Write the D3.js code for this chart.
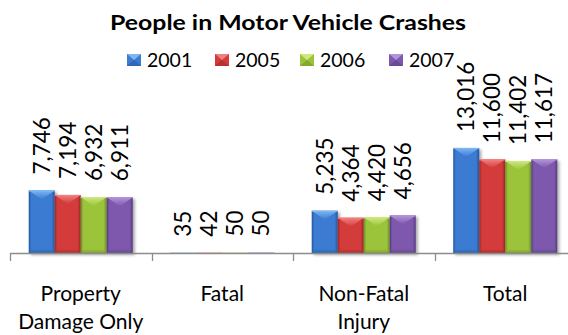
<!DOCTYPE html>
<html>
<head>
<meta charset="utf-8">
<script src="https://cdn.jsdelivr.net/npm/d3@7/dist/d3.min.js"></script>
<style>
  html, body { margin: 0; padding: 0; background: #fff; }
  svg { display: block; }
  text { font-family: Lato, "Open Sans", sans-serif; fill: #000; }
</style>
</head>
<body>
<div id="chart"></div>
<script>
// Data
const categories = ["Property Damage Only", "Fatal", "Non-Fatal Injury", "Total"];
const categoryLines = [["Property", "Damage Only"], ["Fatal"], ["Non-Fatal", "Injury"], ["Total"]];
const years = ["2001", "2005", "2006", "2007"];
const values2001 = [7746, 35, 5235, 13016];
const values2005 = [7194, 42, 4364, 11600];
const values2006 = [6932, 50, 4420, 11402];
const values2007 = [6911, 50, 4656, 11617];
const seriesValues = [values2001, values2005, values2006, values2007];

// Bevel colours per series: base, light, dark
const palette = [
  { base: "#3b7bd2", light: "#7db6f2", dark: "#24559a" },
  { base: "#d43b3b", light: "#f08080", dark: "#962626" },
  { base: "#9cc43b", light: "#cde880", dark: "#6a8c24" },
  { base: "#7d59ac", light: "#b394dc", dark: "#553b7e" }
];

const W = 568, H = 335;
const axisY = 253;

const svg = d3.select("#chart").append("svg")
  .attr("width", W).attr("height", H);

svg.append("rect").attr("width", W).attr("height", H).attr("fill", "#fff");

const defs = svg.append("defs");

palette.forEach((c, i) => {
  const g = defs.append("linearGradient").attr("id", "body" + i)
    .attr("x1", 0).attr("x2", 1).attr("y1", 0).attr("y2", 0);
  g.append("stop").attr("offset", "0%").attr("stop-color", c.dark);
  g.append("stop").attr("offset", "10%").attr("stop-color", c.base);
  g.append("stop").attr("offset", "88%").attr("stop-color", c.base);
  g.append("stop").attr("offset", "100%").attr("stop-color", c.dark);
  const t = defs.append("linearGradient").attr("id", "top" + i)
    .attr("x1", 0).attr("x2", 0).attr("y1", 0).attr("y2", 1);
  t.append("stop").attr("offset", "0%").attr("stop-color", c.light);
  t.append("stop").attr("offset", "100%").attr("stop-color", c.base);
  const b = defs.append("linearGradient").attr("id", "bot" + i)
    .attr("x1", 0).attr("x2", 0).attr("y1", 0).attr("y2", 1);
  b.append("stop").attr("offset", "0%").attr("stop-color", c.base);
  b.append("stop").attr("offset", "100%").attr("stop-color", c.dark);
});

const shadow = defs.append("filter").attr("id", "shadow")
  .attr("x", "-20%").attr("y", "-20%").attr("width", "150%").attr("height", "150%");
shadow.append("feDropShadow").attr("dx", 2).attr("dy", 2)
  .attr("stdDeviation", 1.6).attr("flood-color", "#000").attr("flood-opacity", 0.35);

// Scales
const x0 = d3.scaleBand().domain(categories).range([10, 576]).paddingInner(0).paddingOuter(0);
const x1 = d3.scaleBand().domain(years).range([0, x0.bandwidth()]).paddingInner(0).paddingOuter(0.72);
const y = d3.scaleLinear().domain([0, 14000]).range([axisY, 140]);

// Title
svg.append("text")
  .attr("x", 288).attr("y", 30)
  .attr("text-anchor", "middle")
  .attr("font-weight", "bold")
  .attr("font-size", 21)
  .attr("textLength", 356)
  .attr("lengthAdjust", "spacingAndGlyphs")
  .text("People in Motor Vehicle Crashes");

// Bevelled bar drawn into a group
function bevelBar(g, x, top, w, h, i) {
  if (h < 0.5) {
    g.append("rect").attr("x", x).attr("y", top).attr("width", w).attr("height", Math.max(h, 0.3))
      .attr("fill", palette[i].base);
    return;
  }
  const bev = Math.min(w / 2, h, 9);
  g.append("rect").attr("x", x).attr("y", top).attr("width", w).attr("height", h)
    .attr("fill", `url(#body${i})`);
  // lower edge
  const bb = Math.min(4, h / 3);
  g.append("path")
    .attr("d", `M${x},${top + h} L${x + w},${top + h} L${x + w - 2},${top + h - bb} L${x + 2},${top + h - bb}Z`)
    .attr("fill", `url(#bot${i})`).attr("opacity", 0.6);
  // top facet: light V shape
  g.append("path")
    .attr("d", `M${x},${top} L${x + w},${top} L${x + w / 2},${top + bev}Z`)
    .attr("fill", `url(#top${i})`);
  g.append("line").attr("x1", x).attr("x2", x + w).attr("y1", top + 0.5).attr("y2", top + 0.5)
    .attr("stroke", palette[i].light).attr("stroke-width", 1);
}

// Bars
const groups = svg.append("g").selectAll("g")
  .data(categories)
  .join("g")
  .attr("transform", d => `translate(${x0(d)},0)`);

groups.each(function (cat, ci) {
  const g = d3.select(this);
  years.forEach((yr, si) => {
    const v = seriesValues[si][ci];
    const bx = x1(yr);
    const bw = x1.bandwidth();
    const top = y(v);
    const bg = g.append("g").attr("filter", y(0) - top > 1 ? "url(#shadow)" : null);
    bevelBar(bg, bx, top, bw, y(0) - top, si);
  });
});

// Value labels (rotated)
groups.each(function (cat, ci) {
  const g = d3.select(this);
  years.forEach((yr, si) => {
    const v = seriesValues[si][ci];
    const cx = x1(yr) + x1.bandwidth() / 2;
    const ly = y(v) - 16;
    g.append("text")
      .attr("transform", `translate(${cx},${ly}) rotate(-90)`)
      .attr("dy", "0.36em")
      .attr("font-size", 22.5)
      .attr("text-anchor", "start")
      .text(d3.format(",")(v));
  });
});

// Category axis
const axisG = svg.append("g");
axisG.append("line")
  .attr("x1", x0.range()[0]).attr("x2", W)
  .attr("y1", axisY + 0.5).attr("y2", axisY + 0.5)
  .attr("stroke", "#8c8c8c").attr("stroke-width", 1.3);
const tickPos = categories.map(c => x0(c)).concat([x0.range()[1]]);
axisG.selectAll("line.tick").data(tickPos).join("line")
  .attr("class", "tick")
  .attr("x1", d => Math.round(d) + 0.5).attr("x2", d => Math.round(d) + 0.5)
  .attr("y1", axisY).attr("y2", axisY + 8)
  .attr("stroke", "#8c8c8c").attr("stroke-width", 1.3);

axisG.selectAll("text.cat").data(categories).join("text")
  .attr("class", "cat")
  .attr("text-anchor", "middle")
  .attr("font-size", 21)
  .attr("x", d => x0(d) + x0.bandwidth() / 2)
  .attr("y", 301)
  .each(function (d, i) {
    const t = d3.select(this);
    categoryLines[i].forEach((line, li) => {
      t.append("tspan")
        .attr("x", x0(d) + x0.bandwidth() / 2)
        .attr("dy", li === 0 ? 0 : 28)
        .text(line);
    });
  });

// Legend
const legendX = [127, 215, 300, 389];
const legend = svg.append("g");
years.forEach((yr, i) => {
  const lg = legend.append("g").attr("transform", `translate(${legendX[i]},0)`);
  const c = palette[i];
  lg.append("rect").attr("x", 0).attr("y", 54).attr("width", 14).attr("height", 12)
    .attr("fill", c.base);
  lg.append("path").attr("d", "M0,54 L14,54 L7,60Z").attr("fill", c.light);
  lg.append("path").attr("d", "M0,66 L14,66 L7,60Z").attr("fill", c.dark).attr("opacity", 0.5);
  lg.append("text").attr("x", 20).attr("y", 66.5).attr("font-size", 19.5).text(yr);
});
</script>
</body>
</html>
